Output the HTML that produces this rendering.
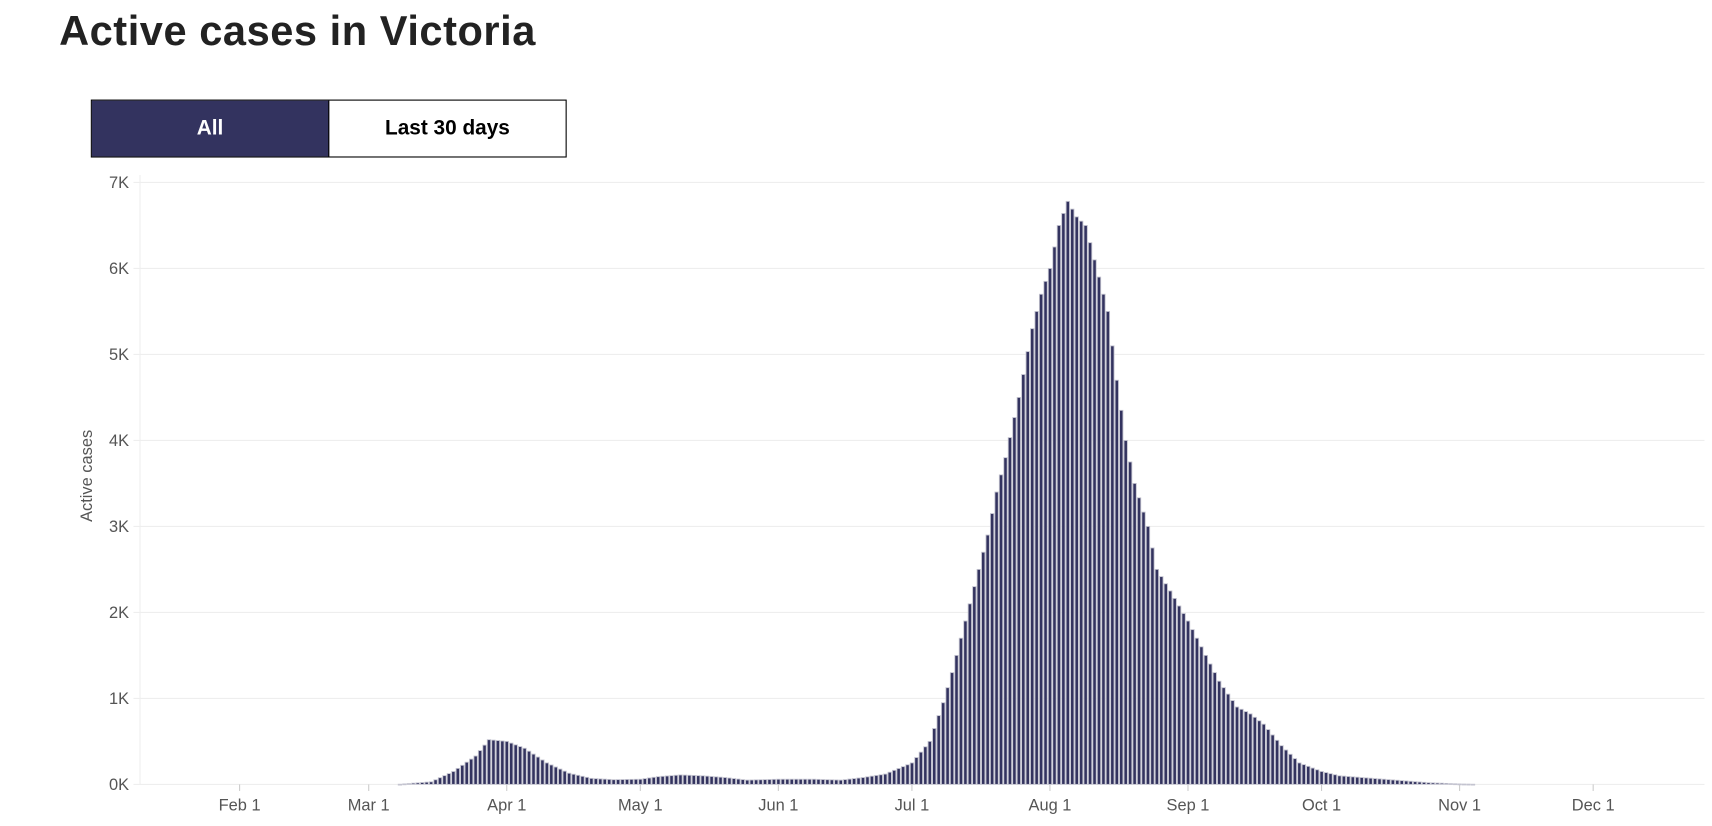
<!DOCTYPE html>
<html><head><meta charset="utf-8"><style>
body{margin:0;background:#fff;width:1712px;height:826px;overflow:hidden;font-family:"Liberation Sans",sans-serif;}
#w{position:absolute;left:0;top:0;width:1565px;height:755px;transform:scale(1.094);transform-origin:0 0}
h1{position:absolute;left:54px;top:8px;margin:0;font-size:38px;font-weight:bold;color:#222;letter-spacing:0.5px}
.btns{position:absolute;left:83px;top:91px;display:flex;border:1px solid #000;}
.btns div{width:216px;height:51px;line-height:51px;text-align:center;font-size:19px;font-weight:bold}
.a{background:#33335f;color:#fff;border-right:1px solid #000}
svg{position:absolute;left:0;top:0}
</style></head><body>
<div id="w">
<h1>Active cases in Victoria</h1>
<div class="btns"><div class="a">All</div><div>Last 30 days</div></div>
<svg id="s" width="1565" height="755" font-family="Liberation Sans, sans-serif"></svg>
</div>
<script>
var s=document.getElementById('s'),h='';
function y(v){return 717-v*0.0786;}
for(var k=0;k<=7;k++){var yy=y(k*1000);
h+='<line x1="122" x2="1558" y1="'+yy+'" y2="'+yy+'" stroke="#eee" stroke-width="1"/>';
h+='<text x="118" y="'+(yy+5)+'" text-anchor="end" font-size="15" fill="#555">'+k+'K</text>';}
h+='<line x1="128" x2="128" y1="160" y2="717" stroke="#eee"/>';
h+='<text transform="translate(84,435) rotate(-90)" text-anchor="middle" font-size="15" fill="#555">Active cases</text>';
function x(d){return 219+(d-31)*4.07;}
var months=[["Feb 1",31],["Mar 1",60],["Apr 1",91],["May 1",121],["Jun 1",152],["Jul 1",182],["Aug 1",213],["Sep 1",244],["Oct 1",274],["Nov 1",305],["Dec 1",335]];
months.forEach(function(m){var xx=x(m[1]);h+='<line x1="'+xx+'" x2="'+xx+'" y1="717" y2="723" stroke="#ccc"/><text x="'+xx+'" y="741" text-anchor="middle" font-size="15" fill="#555">'+m[0]+'</text>';});
var pts=[[67,2],[74,30],[79,150],[84,330],[87,520],[91,500],[95,420],[100,250],[105,130],[110,70],[115,55],[121,60],[125,90],[130,110],[135,100],[140,80],[145,50],[152,60],[160,60],[166,50],[171,80],[176,120],[182,250],[186,500],[189,950],[191,1300],[193,1700],[196,2300],[199,2900],[201,3400],[203,3800],[206,4500],[209,5300],[211,5700],[213,6000],[215,6500],[217,6780],[219,6600],[221,6500],[222,6300],[224,5900],[226,5500],[228,4700],[230,4000],[232,3500],[235,3000],[237,2500],[240,2250],[244,1900],[248,1500],[251,1200],[255,900],[258,820],[261,700],[265,450],[269,250],[274,150],[278,100],[283,80],[288,60],[293,40],[298,20],[305,5],[308,2]];
function val(d){for(var i=0;i<pts.length-1;i++){if(d>=pts[i][0]&&d<=pts[i+1][0]){var t=(d-pts[i][0])/(pts[i+1][0]-pts[i][0]);return pts[i][1]+t*(pts[i+1][1]-pts[i][1]);}}return 0;}
for(var d=67;d<=308;d++){var v=val(d),yy=y(v),xx=x(d)-1.5;
h+='<rect x="'+xx+'" y="'+yy+'" width="3.1" height="'+Math.max(717-yy,0.8)+'" fill="#33335f" stroke="#c4c4d0" stroke-width="0.8"/>';}
s.innerHTML=h;
</script>
</body></html>
